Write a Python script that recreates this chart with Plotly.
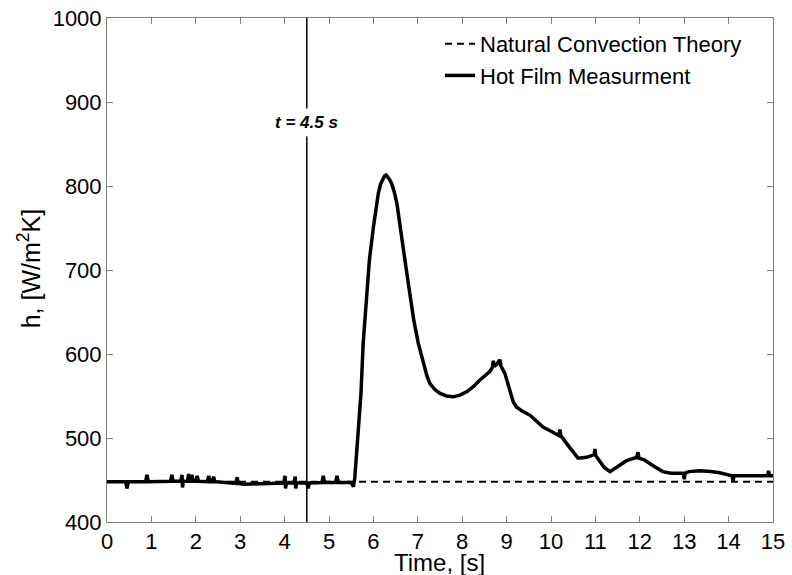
import plotly.graph_objects as go

time_s = [0.0, 0.42, 0.45, 0.48, 0.87, 0.9, 0.93, 1.43, 1.46, 1.49, 1.66, 1.69, 1.7, 1.72,
          1.81, 1.84, 1.87, 1.89, 1.91, 1.94, 2.0, 2.03, 2.06, 2.26, 2.29, 2.32, 2.37, 2.4, 2.43,
          2.9, 2.93, 2.96, 3.1, 3.5, 3.98, 4.01, 4.02, 4.04, 4.21, 4.24, 4.25, 4.27, 4.5, 4.53,
          4.56, 4.84, 4.87, 4.9, 5.15, 5.18, 5.21, 5.5, 5.55, 5.58, 5.61, 5.66, 5.72, 5.77,
          5.85, 5.91, 6.0, 6.06, 6.11, 6.16, 6.21, 6.25, 6.285, 6.32, 6.36, 6.41, 6.47, 6.53,
          6.6, 6.71, 6.82, 6.91, 7.01, 7.12, 7.2, 7.27, 7.38, 7.5, 7.65, 7.8, 7.95, 8.1, 8.25,
          8.4, 8.62, 8.68, 8.7, 8.72, 8.78, 8.85, 8.87, 8.96, 9.05, 9.15,
          9.22, 9.35, 9.53, 9.82, 10.0, 10.18, 10.2, 10.22, 10.4, 10.61, 10.8, 10.97, 10.99,
          11.01, 11.05, 11.2, 11.33, 11.5, 11.7, 11.93, 11.96, 11.98, 12.1, 12.3, 12.52, 12.7,
          12.9, 12.98, 13.0, 13.02, 13.1, 13.35, 13.6, 13.8, 14.08, 14.1, 14.12, 14.17, 14.5,
          14.88, 14.9, 14.92, 15.0]
h_meas = [448, 448, 440, 448, 448, 456, 448, 448.5, 456, 448.5, 448.5, 456, 441, 448.5,
          448.5, 457, 448.5, 448.5, 456, 448.5, 448.5, 455, 448.5, 448, 455, 448, 448, 454, 448,
          446, 453, 446, 445, 446, 446.5, 455, 440, 446.5, 446.5, 454, 440, 446.5, 446.5, 440,
          446.5, 447, 455, 447, 447, 455, 447, 447, 442, 452, 474, 513, 553, 613,
          672, 712, 751, 775, 791, 802, 809, 812, 813, 811, 808, 803, 793, 779,
          751, 712, 672, 640, 613, 589, 575, 565, 558, 553, 550, 549, 551, 555, 561,
          569, 579, 584, 592, 585, 588, 593, 586, 577, 560, 543,
          537, 532, 527, 513, 508, 503, 510, 503, 490, 476, 477, 480, 487,
          479, 476, 465, 460, 466, 473, 477, 483, 476, 474, 467, 460, 458,
          458, 458, 451, 458, 460, 461, 460, 458.7, 455, 448, 455, 455, 454,
          455, 461, 455, 455]

# Natural convection theory level
theory_t = [0, 15]
theory_h = [448, 448]

# Marker time
t_mark = 4.5
y_range = [400, 1000]

x_ticks = list(range(0, 16))
y_ticks = [400, 500, 600, 700, 800, 900, 1000]

FONT = "Liberation Sans, Arial, Helvetica, sans-serif"

fig = go.Figure()
fig.add_trace(go.Scatter(x=theory_t, y=theory_h, mode="lines",
                         name="Natural Convection Theory",
                         line=dict(color="black", width=2, dash="7px,5px")))
fig.add_trace(go.Scatter(x=[t_mark, t_mark], y=y_range, mode="lines", showlegend=False,
                         line=dict(color="black", width=1.5), hoverinfo="skip"))
fig.add_trace(go.Scatter(x=time_s, y=h_meas, mode="lines",
                         name="Hot Film Measurment",
                         line=dict(color="black", width=3.5)))

fig.add_annotation(x=t_mark, y=876, xref="x", yref="y",
                   text="<b><i>t = 4.5 s</i></b>", showarrow=False,
                   font=dict(family=FONT, size=17, color="black"),
                   bgcolor="white", borderpad=4)

# Axis titles
fig.add_annotation(x=0.4985, y=-0.081, xref="paper", yref="paper",
                   text="Time, [s]", showarrow=False, xanchor="center", yanchor="middle",
                   font=dict(family=FONT, size=24, color="black"))
fig.add_annotation(x=-0.1166, y=0.502, xref="paper", yref="paper",
                   text="h, [W/m<sup>2</sup>K]", showarrow=False, textangle=-90,
                   xanchor="center", yanchor="middle",
                   font=dict(family=FONT, size=25, color="black"))

axis_common = dict(showgrid=False, zeroline=False, showline=True, linecolor="#808080",
                   linewidth=1, mirror="ticks", ticks="inside", ticklen=6, tickwidth=1,
                   tickcolor="#808080", automargin=False,
                   tickfont=dict(family=FONT, size=22, color="black"))

fig.update_xaxes(range=[0, 15], tickvals=x_ticks, **axis_common)
fig.update_yaxes(range=y_range, tickvals=y_ticks, **axis_common)

fig.update_layout(
    width=792, height=575,
    margin=dict(l=107, r=19, t=18, b=53, autoexpand=False),
    paper_bgcolor="white", plot_bgcolor="white",
    font=dict(family=FONT, color="black"),
    legend=dict(x=0.5, y=0.99, xanchor="left", yanchor="top",
                bgcolor="rgba(0,0,0,0)", borderwidth=0,
                font=dict(family=FONT, size=22, color="black"),
                tracegroupgap=0),
    showlegend=True,
)

fig.write_html("out.html", config={"displayModeBar": False},
               post_script="document.body.style.margin='0';document.body.style.overflow='hidden';")
